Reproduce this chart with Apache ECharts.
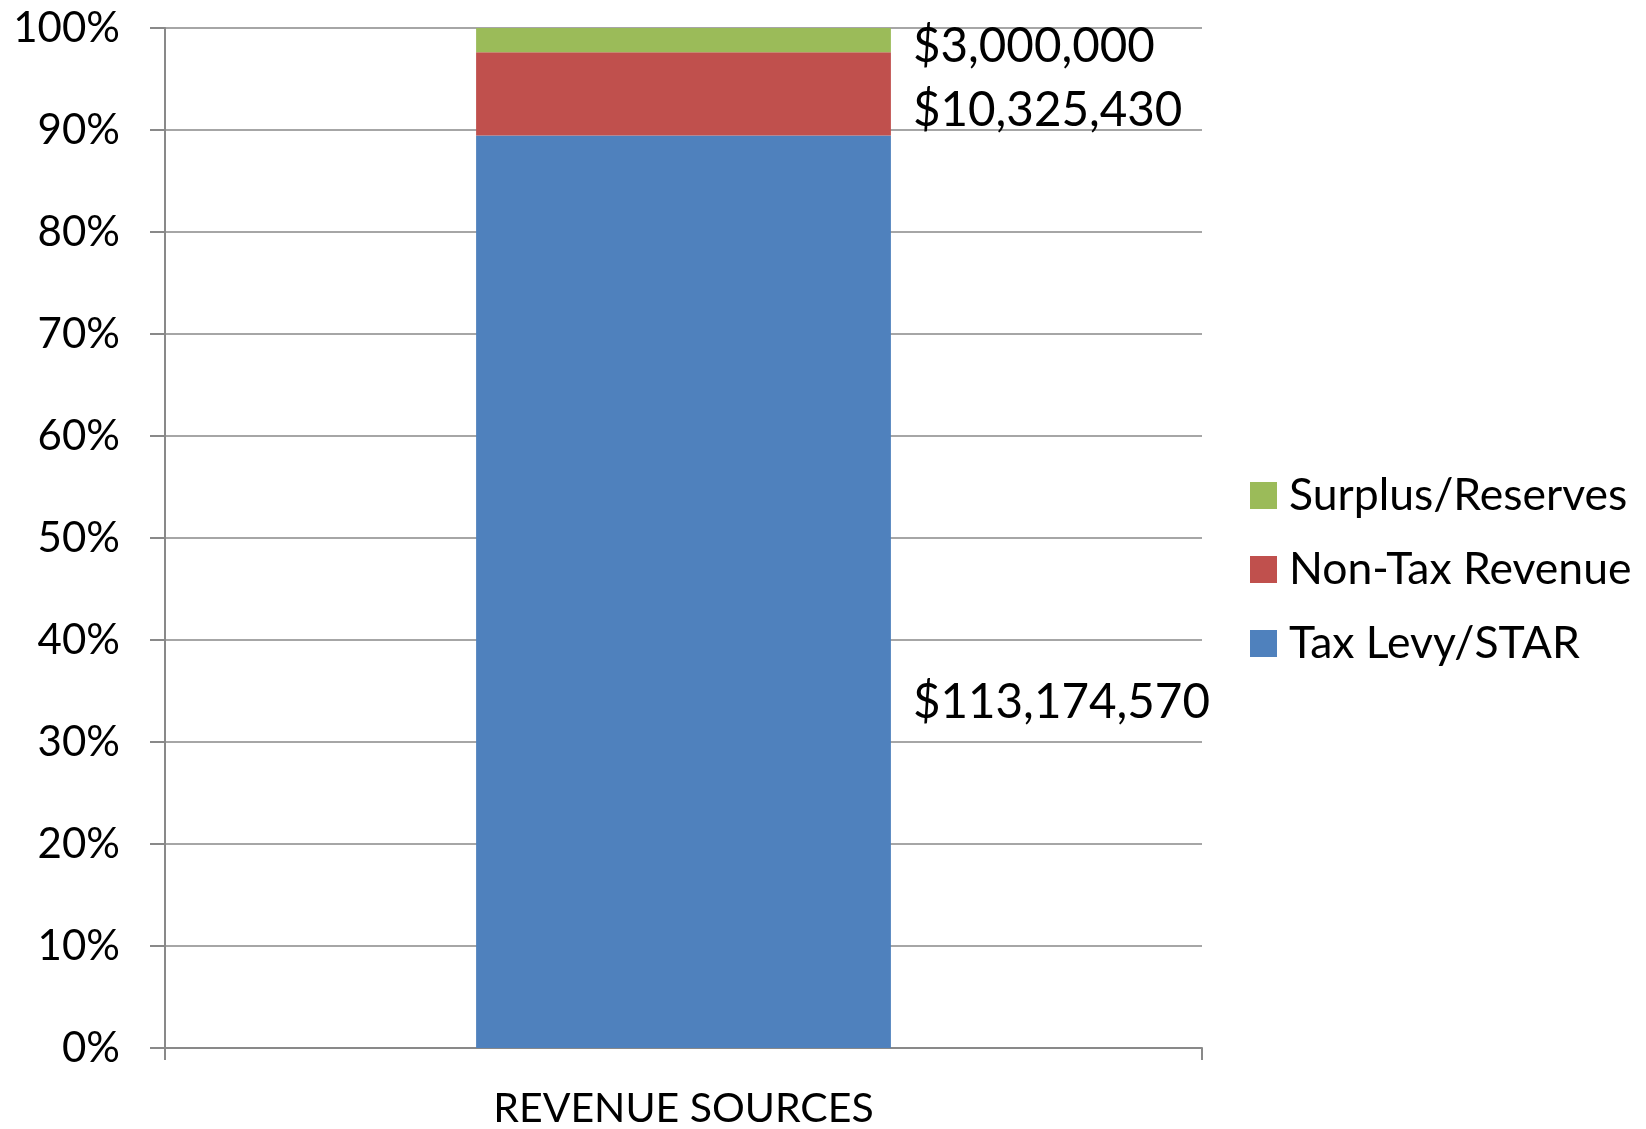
<!DOCTYPE html>
<html>
<head>
<meta charset="utf-8">
<script src="https://cdn.jsdelivr.net/npm/echarts@6/dist/echarts.min.js"></script>
<style>
html,body{margin:0;padding:0;background:#fff;}
#chart{width:1646px;height:1129px;}
</style>
</head>
<body>
<div id="chart"></div>
<script>
const categories = ['REVENUE SOURCES'];
const seriesNames = ['Tax Levy/STAR', 'Non-Tax Revenue', 'Surplus/Reserves'];
const taxLevy = [113174570];
const nonTax = [10325430];
const surplus = [3000000];
const yTicks = [0, 10, 20, 30, 40, 50, 60, 70, 80, 90, 100];

const raw = [taxLevy, nonTax, surplus];
const totals = categories.map((c, i) => raw.reduce((s, arr) => s + arr[i], 0));
const pct = raw.map(arr => arr.map((v, i) => v / totals[i] * 100));
const colors = ['#4F81BD', '#C0504D', '#9BBB59'];
const labelOffsets = [[0, 111], [0, 17], [0, 7]];
const FONT = 'Lato';

function fmtMoney(v) {
  return '$' + v.toString().replace(/\B(?=(\d{3})+(?!\d))/g, ',');
}

const chart = echarts.init(document.getElementById('chart'));
chart.setOption({
  animation: false,
  backgroundColor: '#ffffff',
  textStyle: { fontFamily: FONT },
  grid: { left: 165, right: 444, top: 28, bottom: 81, containLabel: false },
  legend: {
    orient: 'vertical',
    left: 1250,
    top: 473,
    padding: 0,
    data: ['Surplus/Reserves', 'Non-Tax Revenue', 'Tax Levy/STAR'],
    itemWidth: 27,
    itemHeight: 27,
    itemGap: 29,
    icon: 'rect',
    textStyle: { fontFamily: FONT, fontSize: 44.5, color: '#000', padding: [0, 0, 0, 7] }
  },
  xAxis: {
    type: 'category',
    data: categories,
    axisLine: { lineStyle: { color: '#898989', width: 2 } },
    axisTick: { show: true, length: 12, lineStyle: { color: '#898989', width: 2 } },
    axisLabel: { fontFamily: FONT, fontSize: 41, color: '#000', margin: 40 }
  },
  yAxis: {
    type: 'value',
    min: yTicks[0],
    max: yTicks[yTicks.length - 1],
    interval: yTicks[1] - yTicks[0],
    axisLine: { show: true, lineStyle: { color: '#898989', width: 2 } },
    axisTick: { show: true, length: 15, lineStyle: { color: '#898989', width: 2 } },
    axisLabel: { fontFamily: FONT, fontSize: 42, color: '#000', margin: 45, formatter: '{value}%' },
    splitLine: { show: true, lineStyle: { color: '#A6A6A6', width: 2 } }
  },
  series: seriesNames.map((name, si) => ({
    name: name,
    type: 'bar',
    stack: 'total',
    barWidth: '40%',
    itemStyle: { color: colors[si] },
    data: pct[si],
    label: {
      show: true,
      position: 'right',
      distance: 22,
      offset: labelOffsets[si],
      fontFamily: FONT,
      fontSize: 47.5,
      color: '#000',
      formatter: p => fmtMoney(raw[si][p.dataIndex])
    }
  }))
});
</script>
</body>
</html>
